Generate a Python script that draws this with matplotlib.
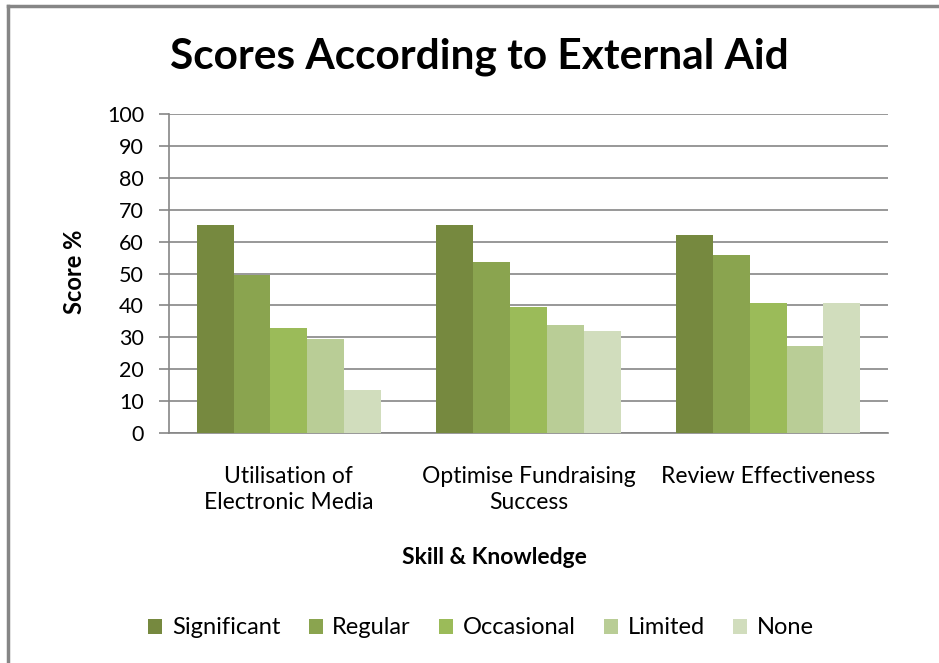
import numpy as np
import matplotlib
matplotlib.use("Agg")
import matplotlib.pyplot as plt
from matplotlib.patches import Patch
from matplotlib.lines import Line2D

categories = ["Utilisation of\nElectronic Media", "Optimise Fundraising\nSuccess", "Review Effectiveness"]
series = ["Significant", "Regular", "Occasional", "Limited", "None"]
significant = [65.2, 65.2, 62.1]
regular = [49.5, 53.6, 55.8]
occasional = [33.0, 39.6, 40.6]
limited = [29.5, 33.9, 27.3]
none = [13.5, 32.0, 40.6]
values = [significant, regular, occasional, limited, none]
colors = ["#76893f", "#8aa44f", "#9bbb59", "#b9cd96", "#d1ddbd"]

plt.rcParams['font.family'] = ['Lato', 'DejaVu Sans']

fig = plt.figure(figsize=(9.39, 6.63), dpi=100)
ax = fig.add_axes([169/939, 1-433/663, (888-169)/939, (433-114)/663])

x = np.arange(len(categories))
w = 1/6.5
for i, (name, vals) in enumerate(zip(series, values)):
    ax.bar(x + (i - 2) * w, vals, w, color=colors[i], label=name, zorder=3)

ax.set_xlim(-0.5, 2.5)
ax.set_ylim(0, 100)
ax.set_yticks(np.arange(0, 101, 10))
ax.yaxis.grid(True, color="#868686", linewidth=1.2)
ax.set_axisbelow(True)
for s in ["top", "right"]:
    ax.spines[s].set_visible(False)
for s in ["left", "bottom"]:
    ax.spines[s].set_color("#868686")
    ax.spines[s].set_linewidth(1.2)
ax.tick_params(axis="y", length=7, width=1.2, color="#868686", pad=11, labelsize=15.5)
ax.set_xticks(x)
ax.set_xticklabels(categories, fontsize=16.5, linespacing=1.25, va="top")
ax.tick_params(axis="x", length=0, pad=24)

fig.text(479/939, 1-57/663, "Scores According to External Aid", ha="center", va="center",
         fontsize=30.5, fontweight="bold")
fig.text(75/939, 1-272/663, "Score %", rotation=90, ha="center", va="center",
         fontsize=17, fontweight="bold")
fig.text(494/939, 1-558/663, "Skill & Knowledge", ha="center", va="center",
         fontsize=16.5, fontweight="bold")

handles = [Patch(facecolor=c, edgecolor="none") for c in colors]
fig.legend(handles, series, loc="center", bbox_to_anchor=(481/939, 1-628/663), ncol=5,
           frameon=False, fontsize=17, handlelength=0.6, handleheight=0.6,
           handletextpad=0.4, columnspacing=1.2)

# chart border (left and top only visible)
fig.add_artist(Line2D([8/939, 8/939], [0, 1-6/663], color="#868686", linewidth=2.5))
fig.add_artist(Line2D([8/939, 1], [1-6/663, 1-6/663], color="#868686", linewidth=2.5))

fig.savefig("out.png", dpi=100)
